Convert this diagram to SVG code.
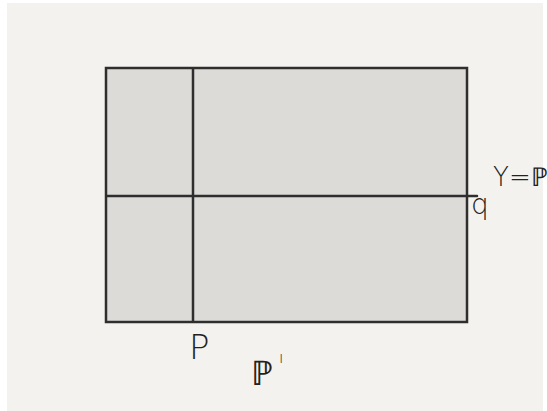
<svg xmlns="http://www.w3.org/2000/svg" width="547" height="411" viewBox="0 0 547 411">
<style>
.ln{stroke:#2e2e2e;stroke-width:2.5;stroke-linecap:round}
.lbl{font-family:"DejaVu Sans","Liberation Sans",sans-serif;font-weight:200;fill:#222}
</style>
<rect x="0" y="0" width="547" height="411" fill="#ffffff"/>
<rect x="7" y="3" width="536" height="408" fill="#f3f2ee"/>
<g id="square">
<rect x="106" y="68" width="361" height="254" fill="#dcdbd8" class="ln"/>
</g>
<g id="connectors">
<line x1="193" y1="69" x2="193" y2="321" class="ln" stroke-width="2"/>
<line x1="107" y1="196" x2="477" y2="196" class="ln" stroke-width="2"/>
</g>
<g id="label-p"><text class="lbl" x="189" y="359" font-size="34">P</text></g>
<g id="label-P1"><text class="lbl" x="251" y="385" font-size="34">ℙ<tspan font-size="16" dy="-22" dx="6">ı</tspan></text></g>
<g id="label-q"><text class="lbl" x="471" y="214" font-size="28">q</text></g>
<g id="label-Y"><text class="lbl" x="493" y="186" font-size="26">Y=ℙ</text></g>
</svg>
